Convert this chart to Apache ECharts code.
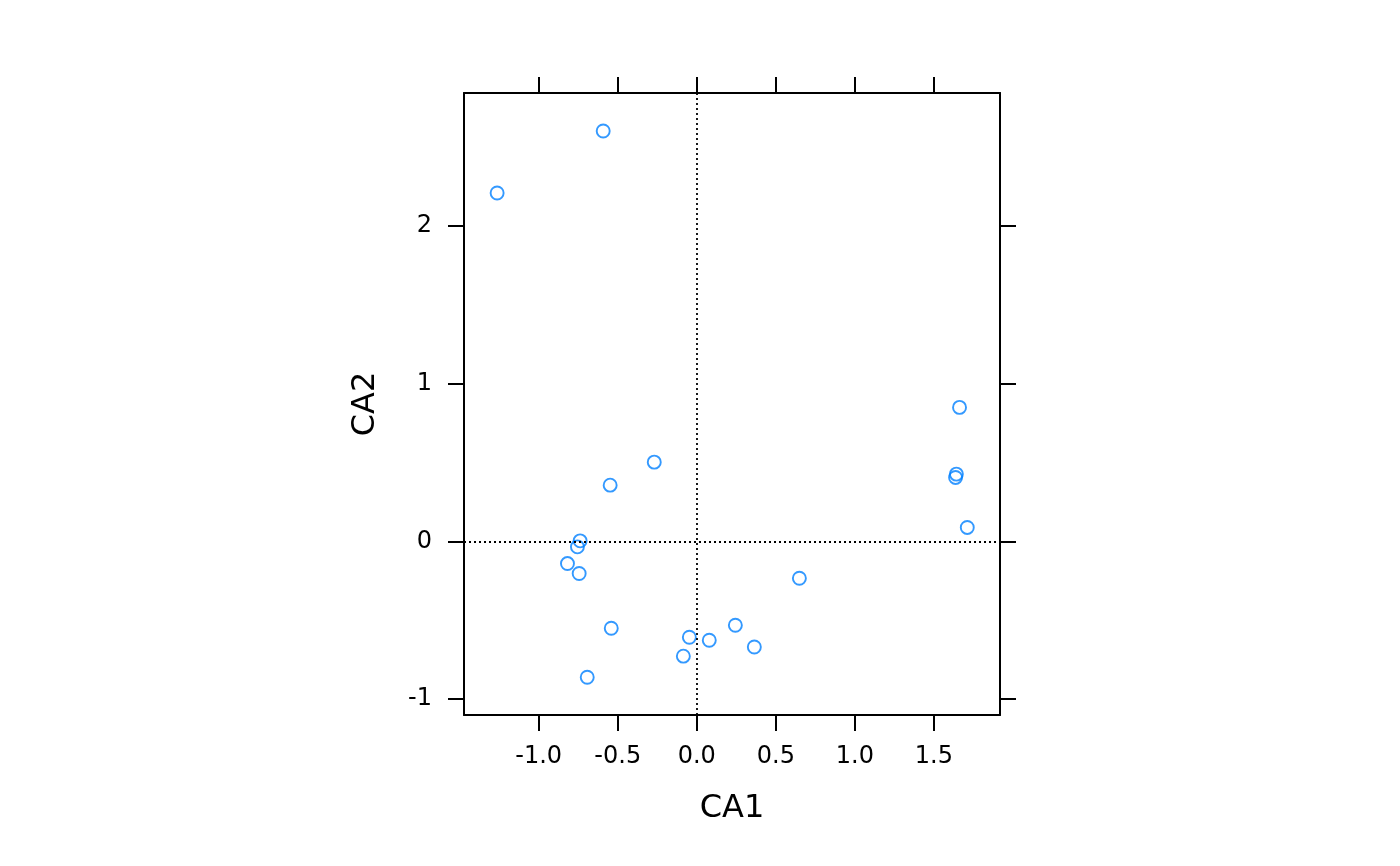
<!DOCTYPE html>
<html>
<head>
<meta charset="utf-8">
<script src="https://cdn.jsdelivr.net/npm/echarts@6/dist/echarts.min.js"></script>
<style>
html,body{margin:0;padding:0;background:#fff;}
#chart{width:1400px;height:866px;}
</style>
</head>
<body>
<div id="chart"></div>
<script>
// CA1 / CA2 scores
const ca1 = [-0.592, -1.263, 1.662, 1.642, 1.637, 1.711, -0.269, -0.548, -0.738, -0.755,
             -0.818, -0.744, 0.649, -0.541, -0.047, 0.079, 0.244, -0.085, 0.364, -0.693];
const ca2 = [2.602, 2.209, 0.850, 0.427, 0.406, 0.089, 0.503, 0.357, 0.004, -0.034,
             -0.140, -0.203, -0.233, -0.550, -0.607, -0.626, -0.531, -0.727, -0.669, -0.861];
const xTicks = [-1.0, -0.5, 0.0, 0.5, 1.0, 1.5];
const yTicks = [-1, 0, 1, 2];
const xRange = [-1.4725, 1.918];
const yRange = [-1.100, 2.843];

const points = ca1.map((x, i) => [x, ca2[i]]);

const font = 'DejaVu Sans';
const tickFont = 24;
const titleFont = 32;

function xAxisDef(pos, showLabel) {
  return {
    type: 'value', position: pos, min: xRange[0], max: xRange[1],
    axisLine: { show: true, onZero: false, lineStyle: { color: '#000', width: 2 } },
    axisTick: { show: true, inside: false, length: 16, customValues: xTicks, lineStyle: { color: '#000', width: 2 } },
    axisLabel: { show: showLabel, customValues: xTicks, margin: 30, color: '#000', fontFamily: font, fontSize: tickFont,
                 formatter: v => v.toFixed(1) },
    splitLine: { show: false },
    name: showLabel ? 'CA1' : '', nameLocation: 'middle', nameGap: 78,
    nameTextStyle: { color: '#000', fontFamily: font, fontSize: titleFont }
  };
}
function yAxisDef(pos, showLabel) {
  return {
    type: 'value', position: pos, min: yRange[0], max: yRange[1],
    axisLine: { show: true, onZero: false, lineStyle: { color: '#000', width: 2 } },
    axisTick: { show: true, inside: false, length: 16, customValues: yTicks, lineStyle: { color: '#000', width: 2 } },
    axisLabel: { show: showLabel, customValues: yTicks, margin: 32, color: '#000', fontFamily: font, fontSize: tickFont,
                 formatter: v => String(v) },
    splitLine: { show: false },
    name: showLabel ? 'CA2' : '', nameLocation: 'middle', nameGap: 82,
    nameTextStyle: { color: '#000', fontFamily: font, fontSize: titleFont }
  };
}

const chart = echarts.init(document.getElementById('chart'), null, { renderer: 'canvas' });
chart.setOption({
  animation: false,
  backgroundColor: '#fff',
  grid: { left: 464, top: 93, width: 536, height: 622, show: false },
  xAxis: [xAxisDef('bottom', true), xAxisDef('top', false)],
  yAxis: [yAxisDef('left', true), yAxisDef('right', false)],
  series: [{
    type: 'scatter',
    xAxisIndex: 0, yAxisIndex: 0,
    data: points,
    symbol: 'circle',
    symbolSize: 13,
    itemStyle: { color: 'rgba(0,0,0,0)', borderColor: '#0080ff', borderWidth: 1.9 },
    emphasis: { disabled: true },
    z: 3,
    markLine: {
      silent: true, symbol: 'none', animation: false,
      label: { show: false },
      lineStyle: { color: '#000', type: [2, 3], width: 1.8 },
      data: [{ xAxis: 0 }, { yAxis: 0 }]
    }
  }]
});
</script>
</body>
</html>
